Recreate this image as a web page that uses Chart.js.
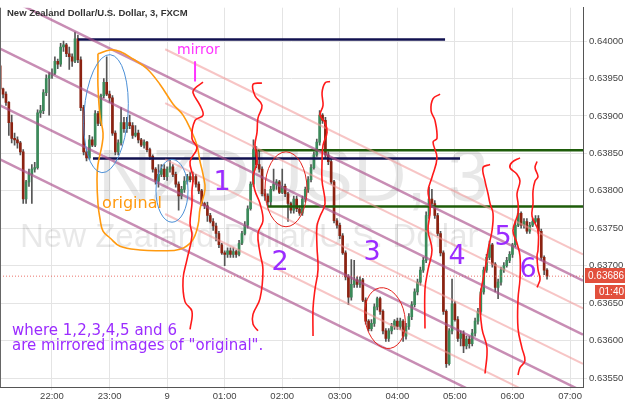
<!DOCTYPE html>
<html>
<head>
<meta charset="utf-8">
<script src="https://cdn.jsdelivr.net/npm/chart.js@4.4.1/dist/chart.umd.min.js"></script>
<style>
  html, body { margin: 0; padding: 0; background: #fff; }
</style>
</head>
<body>
<canvas id="chart" width="625" height="402"></canvas>
<script>
// NZDUSD 3-Minuten-Kerzen, Zeit in Minuten ab 21:00
const firstCandle = 6;   // 21:06
const candleStep = 3;
const firstOpen = 0.63967;

const closes = [
  0.63936,0.63929,0.63918,0.63891,0.63870,0.63868,0.63864,0.63852,0.63789,0.63812,
  0.63822,0.63829,0.63831,0.63904,0.63907,0.63931,0.63950,0.63954,0.63957,0.63973,
  0.63969,0.63992,0.63995,0.63983,0.63979,0.63973,0.64003,0.63975,0.63911,0.63852,
  0.63844,0.63868,0.63861,0.63903,0.63890,0.63927,0.63945,0.63929,0.63924,0.63877,
  0.63852,0.63864,0.63891,0.63883,0.63891,0.63887,0.63874,0.63877,0.63868,0.63861,
  0.63865,0.63855,0.63846,0.63829,0.63813,0.63822,0.63829,0.63819,0.63829,0.63832,
  0.63822,0.63809,0.63793,0.63802,0.63813,0.63819,0.63815,0.63819,0.63809,0.63800,
  0.63783,0.63780,0.63767,0.63759,0.63753,0.63743,0.63728,0.63717,0.63715,0.63720,
  0.63715,0.63719,0.63715,0.63730,0.63743,0.63754,0.63776,0.63809,0.63855,0.63835,
  0.63829,0.63796,0.63793,0.63785,0.63802,0.63809,0.63812,0.63798,0.63806,0.63796,
  0.63783,0.63774,0.63789,0.63776,0.63770,0.63789,0.63802,0.63815,0.63831,0.63848,
  0.63865,0.63901,0.63894,0.63848,0.63839,0.63812,0.63760,0.63754,0.63740,0.63717,
  0.63685,0.63658,0.63675,0.63681,0.63675,0.63681,0.63654,0.63626,0.63616,0.63623,
  0.63645,0.63656,0.63639,0.63613,0.63603,0.63613,0.63619,0.63626,0.63619,0.63626,
  0.63606,0.63619,0.63632,0.63648,0.63665,0.63678,0.63694,0.63707,0.63767,0.63789,
  0.63783,0.63767,0.63743,0.63717,0.63639,0.63569,0.63613,0.63649,0.63628,0.63603,
  0.63609,0.63593,0.63602,0.63596,0.63610,0.63626,0.63639,0.63665,0.63694,0.63711,
  0.63728,0.63702,0.63671,0.63678,0.63694,0.63700,0.63707,0.63715,0.63728,0.63754,
  0.63770,0.63754,0.63759,0.63746,0.63754,0.63759,0.63763,0.63746,0.63711,0.63694,
  0.63686
];
const highs = [
  0.63970,0.63937,0.63932,0.63919,0.63901,0.63877,0.63872,0.63866,0.63855,0.63814,
  0.63829,0.63835,0.63838,0.63908,0.63914,0.63935,0.63955,0.63958,0.63963,0.63979,
  0.63976,0.63997,0.64000,0.63997,0.63992,0.63983,0.64012,0.64008,0.63979,0.63914,
  0.63855,0.63874,0.63872,0.63907,0.63906,0.63929,0.63950,0.63979,0.63933,0.63927,
  0.63880,0.63868,0.63911,0.63898,0.63898,0.63901,0.63891,0.63887,0.63881,0.63870,
  0.63868,0.63866,0.63857,0.63848,0.63831,0.63835,0.63835,0.63835,0.63832,0.63842,
  0.63835,0.63825,0.63812,0.63806,0.63819,0.63822,0.63825,0.63825,0.63822,0.63812,
  0.63802,0.63785,0.63785,0.63770,0.63763,0.63757,0.63746,0.63730,0.63720,0.63724,
  0.63724,0.63724,0.63721,0.63734,0.63746,0.63759,0.63780,0.63812,0.63868,0.63859,
  0.63855,0.63832,0.63802,0.63796,0.63806,0.63829,0.63815,0.63814,0.63829,0.63809,
  0.63798,0.63785,0.63793,0.63793,0.63780,0.63793,0.63805,0.63819,0.63835,0.63852,
  0.63869,0.63907,0.63903,0.63898,0.63852,0.63842,0.63814,0.63763,0.63757,0.63743,
  0.63720,0.63688,0.63708,0.63707,0.63685,0.63685,0.63683,0.63657,0.63628,0.63628,
  0.63649,0.63658,0.63658,0.63641,0.63616,0.63616,0.63623,0.63628,0.63630,0.63630,
  0.63628,0.63623,0.63636,0.63652,0.63669,0.63682,0.63698,0.63711,0.63772,0.63805,
  0.63802,0.63787,0.63770,0.63746,0.63720,0.63641,0.63616,0.63682,0.63652,0.63632,
  0.63613,0.63613,0.63606,0.63606,0.63615,0.63630,0.63643,0.63669,0.63698,0.63715,
  0.63733,0.63730,0.63704,0.63682,0.63698,0.63704,0.63711,0.63719,0.63730,0.63759,
  0.63776,0.63772,0.63763,0.63763,0.63758,0.63763,0.63767,0.63767,0.63749,0.63713,
  0.63696
];
const lows = [
  0.63933,0.63924,0.63914,0.63874,0.63864,0.63861,0.63857,0.63848,0.63783,0.63783,
  0.63806,0.63783,0.63825,0.63829,0.63898,0.63903,0.63927,0.63901,0.63950,0.63955,
  0.63963,0.63966,0.63986,0.63979,0.63962,0.63966,0.63971,0.63971,0.63907,0.63848,
  0.63840,0.63842,0.63859,0.63859,0.63887,0.63887,0.63924,0.63927,0.63918,0.63874,
  0.63848,0.63848,0.63861,0.63878,0.63878,0.63883,0.63870,0.63872,0.63864,0.63859,
  0.63857,0.63852,0.63842,0.63825,0.63809,0.63805,0.63819,0.63815,0.63814,0.63825,
  0.63819,0.63805,0.63774,0.63789,0.63798,0.63809,0.63812,0.63812,0.63805,0.63796,
  0.63780,0.63776,0.63759,0.63757,0.63747,0.63733,0.63724,0.63715,0.63700,0.63711,
  0.63711,0.63711,0.63711,0.63713,0.63728,0.63741,0.63750,0.63774,0.63806,0.63831,
  0.63825,0.63793,0.63787,0.63780,0.63780,0.63800,0.63802,0.63796,0.63796,0.63792,
  0.63759,0.63770,0.63770,0.63772,0.63767,0.63767,0.63785,0.63798,0.63812,0.63829,
  0.63846,0.63861,0.63890,0.63844,0.63835,0.63809,0.63757,0.63750,0.63736,0.63715,
  0.63681,0.63648,0.63654,0.63671,0.63671,0.63671,0.63652,0.63622,0.63613,0.63613,
  0.63619,0.63641,0.63635,0.63609,0.63599,0.63599,0.63609,0.63615,0.63615,0.63615,
  0.63599,0.63602,0.63615,0.63628,0.63645,0.63661,0.63674,0.63691,0.63704,0.63763,
  0.63779,0.63763,0.63740,0.63713,0.63635,0.63564,0.63567,0.63609,0.63626,0.63599,
  0.63593,0.63584,0.63589,0.63590,0.63593,0.63606,0.63622,0.63635,0.63662,0.63691,
  0.63708,0.63698,0.63665,0.63656,0.63674,0.63691,0.63698,0.63704,0.63711,0.63725,
  0.63752,0.63750,0.63750,0.63743,0.63743,0.63752,0.63757,0.63743,0.63707,0.63688,
  0.63682
];

// Achsen
const hourTicks = [60, 120, 180, 240, 300, 360, 420, 480, 540, 600];
const hourLabels = ['22:00', '23:00', '9', '01:00', '02:00', '03:00', '04:00', '05:00', '06:00', '07:00'];
const priceTicks = [0.6355, 0.636, 0.6365, 0.637, 0.6375, 0.638, 0.6385, 0.639, 0.6395, 0.64];
const lastPrice = 0.63686;
const countdown = '01:40';

// Zeichnungen: Kanal (lila), Hilfslinien (rosa), Horizontale
const channelStart = [0.64062, 0.63990, 0.63914, 0.63842];
const channelEnd   = [0.63680, 0.63608, 0.63532, 0.63460];
const pinkStart = [0.63989, 0.63917, 0.63842, 0.63769];
const pinkEnd   = [0.63715, 0.63643, 0.63569, 0.63495];
const navyLevels = [[87.1, 469.7, 0.64002], [102.7, 485.3, 0.63843]];
const greenLevels = [[274.7, 613.5, 0.63854], [285.0, 613.5, 0.63779]];

// Handgezeichnete Kurven [Minute, Preis]
const squiggles = [
  [[217.4,0.63945],[209.1,0.63937],[207.0,0.63931],[214.3,0.63914],[217.4,0.63901],[209.1,0.63894],[205.9,0.63870],[211.1,0.63857],[203.9,0.63839],[207.0,0.63818],[205.9,0.63800],[205.9,0.63783],[203.9,0.63757],[205.9,0.63740],[200.7,0.63708],[196.6,0.63682],[198.6,0.63652],[205.9,0.63639],[203.9,0.63615]],
  [[278.9,0.63944],[269.5,0.63942],[271.6,0.63927],[278.9,0.63914],[274.7,0.63897],[273.7,0.63878],[271.6,0.63861],[273.7,0.63839],[269.5,0.63818],[271.6,0.63800],[276.8,0.63783],[279.9,0.63760],[274.7,0.63743],[276.8,0.63717],[279.9,0.63695],[276.8,0.63656],[269.5,0.63635],[269.5,0.63622],[274.7,0.63613]],
  [[349.8,0.63946],[344.6,0.63944],[341.5,0.63931],[342.5,0.63914],[339.4,0.63901],[344.6,0.63891],[346.7,0.63878],[342.5,0.63861],[341.5,0.63839],[341.5,0.63813],[344.6,0.63783],[339.4,0.63766],[336.2,0.63753],[336.2,0.63726],[337.3,0.63695],[334.2,0.63669],[332.1,0.63643],[332.1,0.63606]],
  [[464.5,0.63929],[457.2,0.63923],[455.1,0.63907],[459.2,0.63894],[461.3,0.63870],[457.2,0.63865],[461.3,0.63844],[456.1,0.63818],[452.0,0.63800],[454.0,0.63783],[454.0,0.63770],[452.0,0.63747],[456.1,0.63721],[452.0,0.63695],[448.8,0.63669],[448.8,0.63616]],
  [[516.6,0.63835],[509.3,0.63831],[511.4,0.63813],[514.5,0.63796],[516.6,0.63783],[519.7,0.63770],[518.7,0.63747],[514.5,0.63721],[511.4,0.63695],[506.2,0.63656],[508.2,0.63616],[513.4,0.63590],[511.4,0.63556]],
  [[547.8,0.63844],[539.5,0.63838],[537.4,0.63831],[544.7,0.63822],[547.8,0.63813],[544.7,0.63796],[545.8,0.63783],[545.8,0.63770],[540.5,0.63747],[544.7,0.63730],[547.8,0.63713],[547.8,0.63682],[545.8,0.63656],[545.8,0.63616],[549.9,0.63590],[553.0,0.63573],[547.8,0.63564],[545.8,0.63554]],
  [[565.6,0.63839],[563.5,0.63831],[566.6,0.63819],[563.5,0.63813],[561.4,0.63800],[561.4,0.63783],[560.4,0.63766],[566.6,0.63747],[566.6,0.63721],[565.6,0.63713],[566.6,0.63695],[568.7,0.63682],[566.6,0.63674],[565.6,0.63671]]
];
const originalOutline = [
  [107.9,0.63983],[120.5,0.63988],[130.9,0.63986],[144.4,0.63976],[159.0,0.63963],[172.6,0.63942],[186.1,0.63916],[196.6,0.63901],
  [205.9,0.63878],[211.1,0.63861],[214.3,0.63839],[217.4,0.63822],[219.5,0.63802],[214.3,0.63776],[212.2,0.63754],[205.9,0.63733],
  [193.4,0.63722],[172.6,0.63720],[151.7,0.63721],[130.9,0.63726],[120.5,0.63737],[113.2,0.63746],[110.0,0.63763],[107.9,0.63783],
  [106.9,0.63815],[107.9,0.63835],[112.1,0.63861],[113.2,0.63877],[110.0,0.63901],[107.9,0.63940],[107.9,0.63966],[107.9,0.63983]
];
const mirrorBar = [[209.1,0.63973],[209.1,0.63946]];
// Ellipsen: Mitte (Minute, Preis), Radien (Minuten, Preis), Drehung in Grad
const blueEllipses = [[116.3,0.63903,22.9,0.00079,4],[185.1,0.63800,16.7,0.00042,0]];
const redEllipses = [[303.9,0.63802,21.9,0.00050,0],[407.1,0.63630,20.8,0.00041,-10]];

// Beschriftungen
const digitLabels = ['1', '2', '3', '4', '5', '6'];
const digitAt = [[237.2,0.63811],[297.7,0.63704],[393.6,0.63717],[482.2,0.63711],[530.1,0.63737],[556.2,0.63694]];
const noteLines = ['where 1,2,3,4,5 and 6', 'are mirrored images of "original".'];
const noteAt = [[18.3,0.63613],[18.3,0.63593]];

const times = closes.map((c, i) => firstCandle + candleStep * i);
const opens = closes.map((c, i) => i ? closes[i - 1] : firstOpen);

const UP = '#3b8a5a', DOWN = '#8c2211';
const candleColors = closes.map((c, i) => c >= opens[i] ? UP : DOWN);

function seg(x1, y1, x2, y2) { return [{x: x1, y: y1}, {x: x2, y: y2}]; }
function pts(list) { return list.map(p => ({x: p[0], y: p[1]})); }
function lineDs(data, color, width, extra) {
    return Object.assign({
        type: 'line', data, borderColor: color, borderWidth: width,
        pointRadius: 0, fill: false, tension: 0, order: 1
    }, extra || {});
}

const xMin = 5.8, xMax = 613.5;
const datasets = [];

// Kerzen
datasets.push({
    type: 'bar', label: 'wick',
    data: times.map((t, i) => ({x: t, y: [lows[i], highs[i]]})),
    backgroundColor: '#555', barThickness: 1, grouped: false, order: 20
});
datasets.push({
    type: 'bar', label: 'body',
    data: times.map((t, i) => ({x: t, y: [opens[i], closes[i]]})),
    backgroundColor: candleColors, barThickness: 2, grouped: false, order: 19
});

// Kanallinien
channelStart.forEach((v, i) => datasets.push(lineDs(seg(xMin, v, xMax, channelEnd[i]), 'rgba(170,80,140,0.65)', 2.5)));
pinkStart.forEach((v, i) => datasets.push(lineDs(seg(178, v, xMax, pinkEnd[i]), 'rgba(240,150,150,0.55)', 2)));
navyLevels.forEach(l => datasets.push(lineDs(seg(l[0], l[2], l[1], l[2]), '#11114f', 2.5)));
greenLevels.forEach(l => datasets.push(lineDs(seg(l[0], l[2], l[1], l[2]), '#1e5c0a', 2.5)));
datasets.push(lineDs(seg(xMin, lastPrice, xMax, lastPrice), 'rgba(230,80,70,0.8)', 1, {borderDash: [1, 2]}));

// Handzeichnungen
squiggles.forEach(s => datasets.push(lineDs(pts(s), '#ff1a1a', 1.6, {tension: 0.4, order: 0})));
datasets.push(lineDs(pts(originalOutline), '#ff9a10', 1.6, {tension: 0.4, order: 0}));
datasets.push(lineDs(pts(mirrorBar), '#ff33ff', 2, {order: 0}));

const overlay = {
    id: 'overlay',
    beforeDatasetsDraw(chart) {
        const ctx = chart.ctx, a = chart.chartArea;
        ctx.save();
        ctx.fillStyle = 'rgba(0,0,0,0.09)';
        ctx.textBaseline = 'alphabetic';
        ctx.font = '74px "Liberation Sans", Arial, sans-serif';
        ctx.fillText('NZDUSD, 3', 98, 201);
        ctx.font = '33px "Liberation Sans", Arial, sans-serif';
        ctx.fillText('New Zealand Dollar/U.S. Dollar', 20, 247);
        ctx.restore();
    },
    afterDatasetsDraw(chart) {
        const ctx = chart.ctx, xs = chart.scales.x, ys = chart.scales.y, a = chart.chartArea;
        ctx.save();
        ctx.beginPath();
        ctx.rect(a.left, a.top, a.right - a.left, a.bottom - a.top);
        ctx.clip();
        const ell = (e, color) => {
            const cx = xs.getPixelForValue(e[0]), cy = ys.getPixelForValue(e[1]);
            const rx = Math.abs(xs.getPixelForValue(e[0] + e[2]) - cx);
            const ry = Math.abs(ys.getPixelForValue(e[1] + e[3]) - cy);
            ctx.strokeStyle = color; ctx.lineWidth = 1;
            ctx.beginPath();
            ctx.ellipse(cx, cy, rx, ry, e[4] * Math.PI / 180, 0, Math.PI * 2);
            ctx.stroke();
        };
        blueEllipses.forEach(e => ell(e, '#4b8fd6'));
        redEllipses.forEach(e => ell(e, '#e3221c'));

        ctx.textBaseline = 'middle';
        ctx.textAlign = 'center';
        ctx.fillStyle = '#9b2cff';
        ctx.font = '27px "DejaVu Sans", sans-serif';
        digitLabels.forEach((d, i) => ctx.fillText(d, xs.getPixelForValue(digitAt[i][0]), ys.getPixelForValue(digitAt[i][1])));
        ctx.fillStyle = '#ff9a10';
        ctx.font = '16px "DejaVu Sans", sans-serif';
        ctx.fillText('original', xs.getPixelForValue(143.4), ys.getPixelForValue(0.63783));
        ctx.textAlign = 'left';
        ctx.fillStyle = '#ff33ff';
        ctx.font = '14px "DejaVu Sans", sans-serif';
        ctx.fillText('mirror', xs.getPixelForValue(190.3), ys.getPixelForValue(0.63988));
        ctx.fillStyle = '#9b2cff';
        ctx.font = '15px "DejaVu Sans", sans-serif';
        noteLines.forEach((t, i) => ctx.fillText(t, xs.getPixelForValue(noteAt[i][0]), ys.getPixelForValue(noteAt[i][1])));

        ctx.fillStyle = '#333';
        ctx.textBaseline = 'alphabetic';
        ctx.font = 'bold 9.5px "Liberation Sans", Arial, sans-serif';
        ctx.fillText('New Zealand Dollar/U.S. Dollar, 3, FXCM', 7, 16);
        ctx.restore();

        ctx.save();
        ctx.strokeStyle = '#666'; ctx.lineWidth = 1;
        ctx.beginPath(); ctx.moveTo(a.left + 0.5, a.top); ctx.lineTo(a.left + 0.5, a.bottom); ctx.stroke();
        ctx.restore();
    },
    afterDraw(chart) {
        const ctx = chart.ctx, ys = chart.scales.y, a = chart.chartArea;
        const py = Math.round(ys.getPixelForValue(lastPrice));
        ctx.save();
        ctx.fillStyle = '#e2503d';
        ctx.fillRect(a.right + 2, py - 8, 42, 15);
        ctx.fillRect(a.right + 12, py + 9, 32, 14);
        ctx.fillStyle = '#fff';
        ctx.font = '10px "Liberation Sans", Arial, sans-serif';
        ctx.textBaseline = 'middle';
        ctx.textAlign = 'left';
        ctx.fillText(lastPrice.toFixed(5), a.right + 5, py);
        ctx.fillText(countdown, a.right + 16, py + 16);
        ctx.restore();
    }
};

new Chart(document.getElementById('chart'), {
    type: 'bar',
    data: { datasets },
    options: {
        responsive: false,
        animation: false,
        devicePixelRatio: 1,
        layout: { padding: 0 },
        plugins: { legend: { display: false }, tooltip: { enabled: false } },
        scales: {
            x: {
                type: 'linear', min: xMin, max: xMax, offset: false,
                afterBuildTicks(s) { s.ticks = hourTicks.map(v => ({value: v})); },
                afterFit(s) { s.height = 15; },
                grid: { color: '#e4e4e4', offset: false, tickLength: 3 },
                border: { color: '#555' },
                ticks: {
                    padding: 1, color: '#444', maxRotation: 0, autoSkip: false,
                    font: { size: 9.5, family: '"Liberation Sans", Arial, sans-serif' },
                    callback: v => hourLabels[hourTicks.indexOf(v)]
                }
            },
            y: {
                position: 'right', min: 0.63538, max: 0.640445,
                afterBuildTicks(s) { s.ticks = priceTicks.map(v => ({value: v})); },
                afterFit(s) { s.width = 42; },
                grid: { color: '#e4e4e4', tickLength: 4 },
                border: { color: '#555' },
                ticks: {
                    padding: 2, color: '#444',
                    font: { size: 9.5, family: '"Liberation Sans", Arial, sans-serif' },
                    callback: v => v.toFixed(5)
                }
            }
        }
    },
    plugins: [overlay]
});
</script>
</body>
</html>
